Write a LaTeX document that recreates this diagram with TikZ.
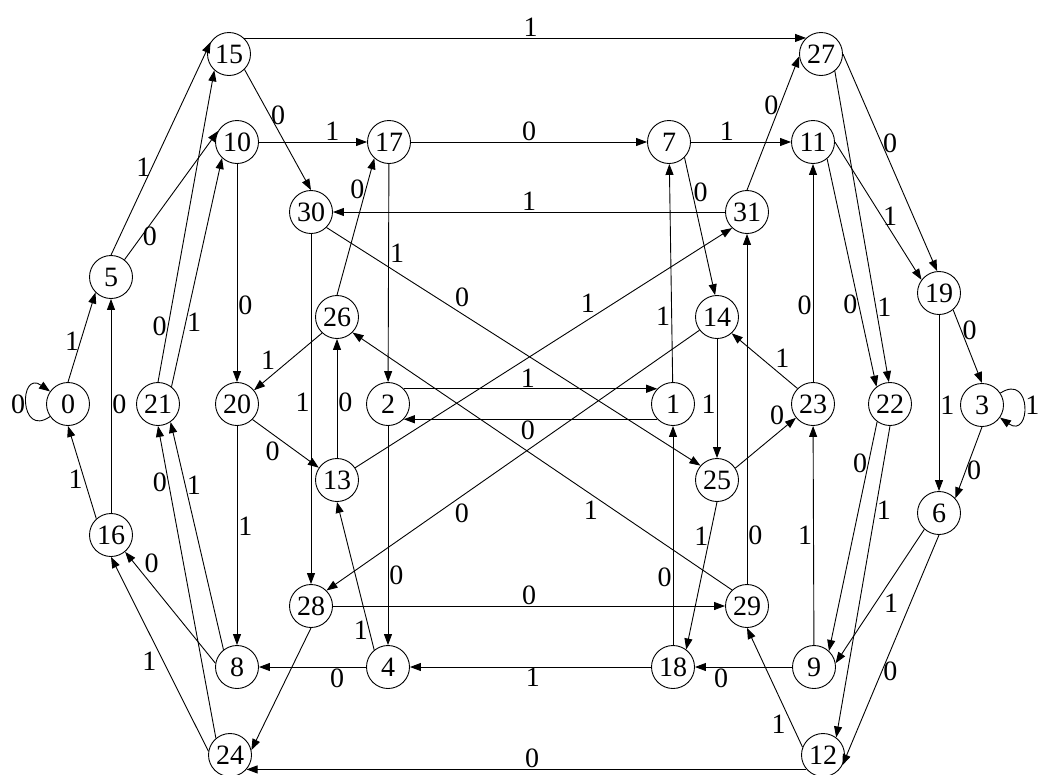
\documentclass[tikz,border=0pt]{standalone}
\usepackage{fontspec}
\setmainfont{Liberation Serif}
\usetikzlibrary{arrows.meta}

\begin{document}
\begin{tikzpicture}[
	x=1pt, y=-1pt,
	font=\fontsize{28}{30}\selectfont,
	state/.style={ circle, draw, line width=0.9pt, inner sep=0pt, minimum size=43pt },
	tr/.style={ -{Triangle[length=11pt,width=8pt]}, line width=0.9pt }
]
\useasboundingbox (0,0) rectangle (1040,774);

\node at (68,404) (s0) [state] {0};
\node at (673,404) (s1) [state] {1};
\node at (388,404) (s2) [state] {2};
\node at (982,405) (s3) [state] {3};
\node at (388,667) (s4) [state] {4};
\node at (111,277) (s5) [state] {5};
\node at (939,513) (s6) [state] {6};
\node at (669,142) (s7) [state] {7};
\node at (237,667) (s8) [state] {8};
\node at (814,667) (s9) [state] {9};
\node at (237,142) (s10) [state] {10};
\node at (813,142) (s11) [state] {11};
\node at (823,755) (s12) [state] {12};
\node at (337,480) (s13) [state] {13};
\node at (717,317) (s14) [state] {14};
\node at (229,54) (s15) [state] {15};
\node at (111,535) (s16) [state] {16};
\node at (389,142) (s17) [state] {17};
\node at (673,667) (s18) [state] {18};
\node at (939,293) (s19) [state] {19};
\node at (237,404) (s20) [state] {20};
\node at (158,404) (s21) [state] {21};
\node at (890,404) (s22) [state] {22};
\node at (813,404) (s23) [state] {23};
\node at (230,755) (s24) [state] {24};
\node at (717,480) (s25) [state] {25};
\node at (337,317) (s26) [state] {26};
\node at (821,54) (s27) [state] {27};
\node at (311,606) (s28) [state] {28};
\node at (747,606) (s29) [state] {29};
\node at (311,212) (s30) [state] {30};
\node at (747,212) (s31) [state] {31};

\begin{scope}[every node/.style={inner sep=1pt}]
\draw[tr] (s15.47) -- node[pos=.51,above] {1} (s27.133);
\draw[tr] (s15.-45) -- node[pos=.38,right] {0} (s30.north);
\draw[tr] (s10) -- node[pos=.68,above] {1} (s17);
\draw[tr] (s17) -- node[pos=.5,above] {0} (s7);
\draw[tr] (s7) -- node[pos=.36,above] {1} (s11);
\draw[tr] (s31) -- node[pos=.5,above] {1} (s30);
\draw[tr] (s31.north) -- node[pos=.63,left] {0} (s27.186);
\draw[tr] (s27.east) -- node[pos=.41,right] {0} (s19.95);
\draw[tr] (s27.-51) -- node[pos=.76,right] {1} (s22.93);
\draw[tr] (s11.east) -- node[pos=.54,right] {1} (s19.143);
\draw[tr] (s11.-50) -- node[pos=.64,left] {0} (s22.128);
\draw[tr] (s7.-45) -- node[pos=.25,right] {0} (s14.95);
\draw[tr] (s17) -- node[pos=.41,right] {1} (s2);
\draw[tr] (s10) -- node[pos=.65,right] {0} (s20);
\draw[tr] (s5.north) -- node[pos=.41,left] {1} (s15.147);
\draw[tr] (s5.52) -- node[pos=.18,right] {0} (s10.150);
\draw[tr] (s0.north) -- node[pos=.46,left] {1} (s5.225);
\draw[tr] (s0) to[out=215,in=145,distance=38pt] node[left] {0} (s0);
\draw[tr] (s16) -- node[pos=.51,right] {0} (s5);
\draw[tr] (s16.132) -- node[pos=.43,left] {1} (s0.south);
\draw[tr] (s21.north) -- node[pos=.18,left] {0} (s15.228);
\draw[tr] (s21.52) -- node[pos=.28,right] {1} (s10.227);
\draw[tr] (s26.north) -- node[pos=.77,left] {0} (s17.228);
\draw[tr] (s26.227) -- node[pos=.67,above left] {1} (s20.39);
\draw[tr] (s20.-45) -- node[pos=.43,below left] {0} (s13.146);
\draw[tr] (s20) -- node[pos=.46,right] {1} (s8);
\draw[tr] (s13) -- node[pos=.47,right] {0} (s26);
\draw[tr] (s13.34) -- node[pos=.64,above left] {1} (s31.227);
\draw[tr] (s2.44) -- node[pos=.49,above] {1} (s1.136);
\draw[tr] (s1.-136) -- node[pos=.51,below] {0} (s2.-44);
\draw[tr] (s2) -- node[pos=.68,right] {0} (s4);
\draw[tr] (s1) -- node[pos=.3,left] {1} (s7);
\draw[tr] (s18) -- node[pos=.31,left] {0} (s1);
\draw[tr] (s30.-45) -- node[pos=.34,above right] {0} (s25.139);
\draw[tr] (s30) -- node[pos=.48,left] {1} (s28);
\draw[tr] (s14) -- node[pos=.55,left] {1} (s25);
\draw[tr] (s14.217) -- node[pos=.66,below right] {0} (s28.45);
\draw[tr] (s25.33) -- node[pos=.83,above left] {0} (s23.219);
\draw[tr] (s25.south) -- node[pos=.23,left] {1} (s18.53);
\draw[tr] (s23.135) -- node[pos=.36,above right] {1} (s14.-48);
\draw[tr] (s23) -- node[pos=.35,left] {0} (s11);
\draw[tr] (s19.-50) -- node[pos=.28,right] {0} (s3.north);
\draw[tr] (s19) -- node[pos=.51,right] {1} (s6);
\draw[tr] (s3) to[out=33,in=-35,distance=38pt] node[right] {1} (s3);
\draw[tr] (s3.south) -- node[pos=.61,right] {0} (s6.42);
\draw[tr] (s22.234) -- node[pos=.18,left] {0} (s9.47);
\draw[tr] (s22.south) -- node[pos=.27,right] {1} (s12.53);
\draw[tr] (s6.228) -- node[pos=.47,below right] {1} (s9.10);
\draw[tr] (s6.south) -- node[pos=.59,right] {0} (s12.-28);
\draw[tr] (s9) -- node[pos=.5,left] {1} (s23);
\draw[tr] (s9) -- node[pos=.73,below] {0} (s18);
\draw[tr] (s18) -- node[pos=.49,below] {1} (s4);
\draw[tr] (s4) -- node[pos=.27,below] {0} (s8);
\draw[tr] (s4.129) -- node[pos=.13,left] {1} (s13.south);
\draw[tr] (s8.170) -- node[pos=.8,above right] {0} (s16.-50);
\draw[tr] (s8.128) -- node[pos=.72,right] {1} (s21.-55);
\draw[tr] (s24.170) -- node[pos=.52,below left] {1} (s16.south);
\draw[tr] (s24.130) -- node[pos=.82,left] {0} (s21.south);
\draw[tr] (s28.south) -- (s24.13);
\draw[tr] (s28) -- node[pos=.5,above] {0} (s29);
\draw[tr] (s29) -- node[pos=.14,right] {0} (s31);
\draw[tr] (s29.133) -- node[pos=.35,below left] {1} (s26.-45);
\draw[tr] (s12.-139) -- node[pos=.49,above] {0} (s24.-41);
\draw[tr] (s12.159) -- node[pos=.28,below left] {1} (s29.south);
\end{scope}

\end{tikzpicture}
\end{document}
